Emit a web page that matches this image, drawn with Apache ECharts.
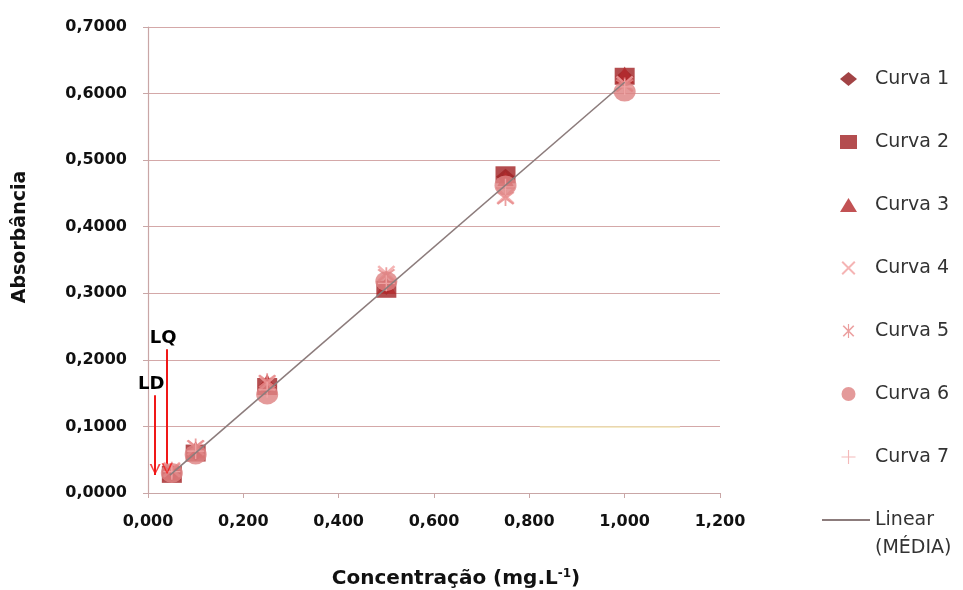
<!DOCTYPE html>
<html>
<head>
<meta charset="utf-8">
<script src="https://cdn.jsdelivr.net/npm/echarts@6/dist/echarts.min.js"></script>
<style>
html,body{margin:0;padding:0;background:#fff;}
#chart{width:963px;height:590px;}
</style>
</head>
<body>
<div id="chart"></div>
<script>
// ---- data ----
var concentrations = [0.05, 0.10, 0.25, 0.50, 0.75, 1.00];
var curveNames = ['Curva 1', 'Curva 2', 'Curva 3', 'Curva 4', 'Curva 5', 'Curva 6', 'Curva 7'];
var curva1 = [0.030, 0.060, 0.160, 0.310, 0.475, 0.625];
var curva2 = [0.028, 0.060, 0.160, 0.306, 0.478, 0.626];
var curva3 = [0.032, 0.065, 0.166, 0.312, 0.470, 0.628];
var curva4 = [0.035, 0.068, 0.165, 0.330, 0.446, 0.615];
var curva5 = [0.035, 0.070, 0.168, 0.327, 0.443, 0.612];
var curva6 = [0.030, 0.058, 0.148, 0.318, 0.462, 0.603];
var curva7 = [0.032, 0.063, 0.155, 0.315, 0.460, 0.610];
var linearX = [0.046, 1.000];
var linearY = [0.027, 0.617];
var ldArrow = {name: 'LD', x: 0.015, yFrom: 0.147, yTo: 0.027};
var lqArrow = {name: 'LQ', x: 0.040, yFrom: 0.216, yTo: 0.028};
var faintLine = {y: 0.100, xFrom: 0.822, xTo: 1.116};
var xTicks = {min: 0, max: 1.2, interval: 0.2};
var yTicks = {min: 0, max: 0.7, interval: 0.1};

// ---- styles ----
var curveValues = [curva1, curva2, curva3, curva4, curva5, curva6, curva7];
var pathX = 'path://M0,1L1,0L10,9L9,10Z M9,0L10,1L1,10L0,9Z';
var pathAst = 'path://M0,1L1,0L10,9L9,10Z M9,0L10,1L1,10L0,9Z M4.5,-1L5.5,-1L5.5,11L4.5,11Z';
var pathPlus = 'path://M4.6,0L5.4,0L5.4,10L4.6,10Z M0,4.6L10,4.6L10,5.4L0,5.4Z';
var symbols = ['diamond', 'rect', 'triangle', pathX, pathAst, 'circle', pathPlus];
var sizes = [[19, 16], [20, 17], [19, 17], [18, 16], [18, 16], [22, 20], [17, 16]];
var colors = ['#8E1A1C', '#A42628', '#B52C2E', '#F3A4A4', '#E68A8A', '#DE8484', '#F2AAAA'];
var font = '"DejaVu Sans", sans-serif';

function pairs(xs, ys) { return xs.map(function (x, i) { return [x, ys[i]]; }); }

var series = curveNames.map(function (n, i) {
  return {
    name: n, type: 'scatter', data: pairs(concentrations, curveValues[i]),
    symbol: symbols[i], symbolSize: sizes[i],
    itemStyle: {color: colors[i], opacity: 0.82}, z: 3 + i
  };
});
series.push({
  name: 'Linear (MÉDIA)', type: 'line', data: pairs(linearX, linearY),
  showSymbol: false, symbol: 'none', z: 20,
  lineStyle: {color: '#8C7C7C', width: 1.6}, itemStyle: {color: '#8C7C7C'}
});
var arrows = [ldArrow, lqArrow];
series.push({
  name: 'arrows', type: 'line', data: [], z: 25,
  markLine: {
    silent: true, animation: false,
    symbol: ['none', 'none'],
    lineStyle: {color: '#F01818', width: 2, type: 'solid'},
    label: {show: true, position: 'start', formatter: '{b}', color: '#000', fontWeight: 'bold',
      fontSize: 18, fontFamily: font, distance: 2, padding: [0, 8, 0, 0]},
    data: arrows.map(function (a) {
      return [{name: a.name, coord: [a.x, a.yFrom]}, {coord: [a.x, a.yTo]}];
    })
  }
});
series.push({
  name: 'arrowHeads', type: 'scatter', z: 26, silent: true,
  data: arrows.map(function (a) { return [a.x, a.yTo]; }),
  symbol: 'path://M0,0L1.8,0L5,7.6L8.2,0L10,0L5,10Z', symbolSize: [11, 11], symbolOffset: [0, '-50%'],
  itemStyle: {color: '#F01818'}
});
series.push({
  name: 'faint', type: 'line', data: [], z: 2,
  markLine: {
    silent: true, animation: false, symbol: ['none', 'none'],
    lineStyle: {color: '#F1E4B4', width: 1.5, type: 'solid'},
    label: {show: false},
    data: [[{coord: [faintLine.xFrom, faintLine.y]}, {coord: [faintLine.xTo, faintLine.y]}]]
  }
});

var chart = echarts.init(document.getElementById('chart'), null, {renderer: 'canvas'});
chart.setOption({
  animation: false,
  backgroundColor: '#fff',
  grid: {left: 148, right: 243, top: 27, bottom: 97, containLabel: false, outerBoundsMode: 'none'},
  legend: [{
    data: curveNames, orient: 'vertical', left: 835, top: 63,
    itemWidth: 17, itemHeight: 14, itemGap: 41,
    textStyle: {fontFamily: font, fontSize: 19, color: '#333', lineHeight: 22, padding: [0, 0, 0, 13]}
  }, {
    data: [{name: 'Linear (MÉDIA)', icon: 'rect'}], orient: 'vertical', left: 817, top: 473,
    itemWidth: 48, itemHeight: 2,
    formatter: function () { return '\nLinear\n(MÉDIA)'; },
    textStyle: {fontFamily: font, fontSize: 19, color: '#333', lineHeight: 28}
  }],
  xAxis: {
    type: 'value', min: xTicks.min, max: xTicks.max, interval: xTicks.interval,
    name: 'Concentração (mg.L{sup|-1})', nameLocation: 'middle', nameGap: 75,
    nameTextStyle: {fontFamily: font, fontSize: 20, fontWeight: 'bold', color: '#111', padding: [0, 0, 0, 44],
      rich: {sup: {fontFamily: font, fontSize: 12, fontWeight: 'bold', color: '#111', padding: [0, 0, 9, 0]}}},
    axisLine: {lineStyle: {color: '#C9A6A6', width: 1.2}},
    axisTick: {show: true, length: 5, lineStyle: {color: '#C9A6A6'}},
    splitLine: {show: false},
    axisLabel: {fontFamily: font, fontSize: 16, fontWeight: 'bold', color: '#111', margin: 21,
      formatter: function (v) { return v.toFixed(3).replace('.', ','); }}
  },
  yAxis: {
    type: 'value', min: yTicks.min, max: yTicks.max, interval: yTicks.interval,
    name: 'Absorbância', nameLocation: 'middle', nameGap: 118, nameRotate: 90,
    nameTextStyle: {fontFamily: font, fontSize: 19, fontWeight: 'bold', color: '#111', padding: [0, 0, 0, 46]},
    axisLine: {show: true, lineStyle: {color: '#C9A6A6', width: 1.2}},
    axisTick: {show: true, length: 5, lineStyle: {color: '#C9A6A6'}},
    splitLine: {show: true, lineStyle: {color: '#D4A8A8', width: 1.2}},
    axisLabel: {fontFamily: font, fontSize: 16, fontWeight: 'bold', color: '#111', margin: 21,
      formatter: function (v) { return v.toFixed(4).replace('.', ','); }}
  },
  series: series
});
</script>
</body>
</html>
